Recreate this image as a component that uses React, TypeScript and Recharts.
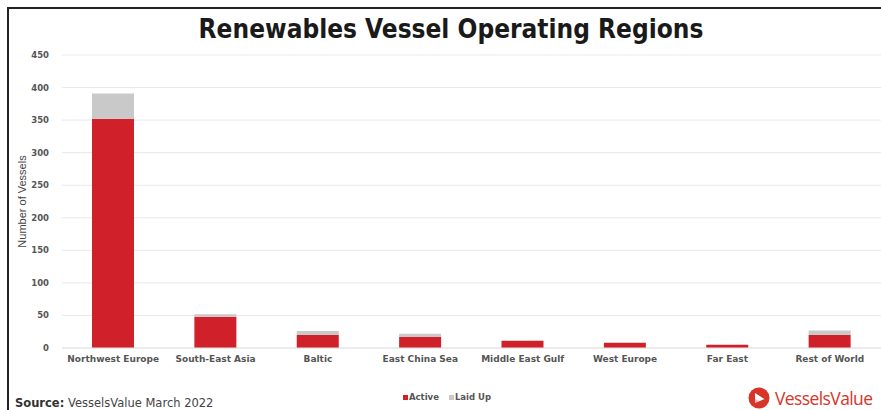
import React from 'react';
import { BarChart, Bar, XAxis, YAxis, CartesianGrid } from 'recharts';

const regions = [
  'Northwest Europe',
  'South-East Asia',
  'Baltic',
  'East China Sea',
  'Middle East Gulf',
  'West Europe',
  'Far East',
  'Rest of World',
];
const active = [352, 48, 20, 17, 11, 8, 5, 20];
const laidUp = [39, 4, 6, 5, 0, 0, 0, 7];
const yTicks = [0, 50, 100, 150, 200, 250, 300, 350, 400, 450];

const data = regions.map((name, i) => ({ name, Active: active[i], 'Laid Up': laidUp[i] }));

const RED = '#d0202a';
const GREY = '#c9c9c9';
const series = [
  { key: 'Active', color: RED },
  { key: 'Laid Up', color: GREY },
];

export default function App() {
  return (
    <div style={{ position: 'absolute', left: 0, top: 0, width: 881, height: 410, background: '#fff', overflow: 'hidden' }}>
      <div style={{ position: 'absolute', left: 7, top: 7, width: 2, height: 403, background: '#222' }} />
      <div style={{ position: 'absolute', left: 7, top: 7, width: 874, height: 2, background: '#222' }} />
      <div
        style={{
          position: 'absolute', left: 0, width: 902, top: 14, textAlign: 'center',
          fontFamily: 'DejaVu Sans Condensed', fontWeight: 700, fontSize: 26, color: '#1a1a1a',
        }}
      >
        Renewables Vessel Operating Regions
      </div>
      <BarChart width={881} height={410} data={data} margin={{ top: 55, right: 0, bottom: 32, left: 8 }}>
        <CartesianGrid vertical={false} stroke="#e8e8e8" />
        <XAxis
          dataKey="name"
          height={30}
          axisLine={{ stroke: '#e3e3e3' }}
          tickLine={false}
          interval={0}
          tick={{ fontFamily: 'DejaVu Sans', fontWeight: 700, fontSize: 9, fill: '#555' }}
        />
        <YAxis
          width={54}
          domain={[0, 450]}
          ticks={yTicks}
          axisLine={false}
          tickLine={false}
          tickMargin={7}
          tick={{ fontFamily: 'DejaVu Sans', fontWeight: 700, fontSize: 8.5, fill: '#555' }}
          label={{
            value: 'Number of Vessels', angle: -90, position: 'insideLeft', offset: 14,
            style: { fontFamily: 'Liberation Sans', fontSize: 11, fill: '#444', textAnchor: 'middle' },
          }}
        />
        <Bar dataKey="Active" stackId="a" fill={RED} barSize={42} isAnimationActive={false} />
        <Bar dataKey="Laid Up" stackId="a" fill={GREY} barSize={42} isAnimationActive={false} />
      </BarChart>
      <div
        style={{
          position: 'absolute', left: 403, top: 392, display: 'flex', gap: 10,
          fontFamily: 'DejaVu Sans', fontWeight: 700, fontSize: 8.5, color: '#555',
        }}
      >
        {series.map((s) => (
          <span key={s.key} style={{ display: 'flex', alignItems: 'center' }}>
            <span style={{ width: 5, height: 5, background: s.color, marginRight: 1 }} />
            {s.key}
          </span>
        ))}
      </div>
      <div style={{ position: 'absolute', left: 15, top: 396, fontFamily: 'DejaVu Sans', fontSize: 11.5, color: '#444' }}>
        <b style={{ color: '#333' }}>Source:</b> VesselsValue March 2022
      </div>
      <div style={{ position: 'absolute', left: 748, top: 386, display: 'flex', alignItems: 'center' }}>
        <svg width={22} height={22} viewBox="0 0 22 22">
          <circle cx={11} cy={11} r={10.5} fill="#d8352a" />
          <path d="M7 6 L16.5 12 L7 16 Z" fill="#fff" />
          <path d="M7 12 L11 14 L7 16 Z" fill="#d8352a" opacity={0.35} />
        </svg>
        <span style={{ marginLeft: 5, fontFamily: 'Open Sans', fontSize: 17.5, color: '#d8352a', letterSpacing: -0.6 }}>
          VesselsValue
        </span>
      </div>
    </div>
  );
}
